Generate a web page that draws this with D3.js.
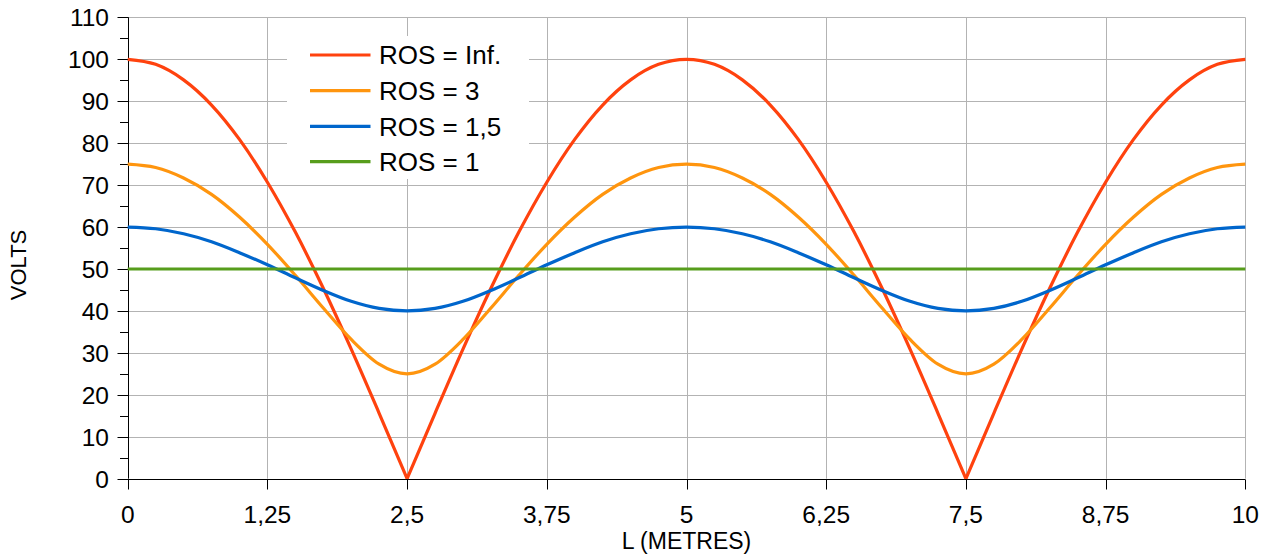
<!DOCTYPE html>
<html>
<head>
<meta charset="utf-8">
<script src="https://cdn.jsdelivr.net/npm/d3@7"></script>
<style>
  html, body { margin: 0; padding: 0; background: #fff; }
  svg { display: block; font-family: "Liberation Sans", Arial, sans-serif; }
</style>
</head>
<body>
<svg id="chart" width="1268" height="556"></svg>
<script>
// ---- data ----
const L = [0, 0.25, 0.5, 0.75, 1, 1.25, 1.5, 1.75, 2, 2.25, 2.5, 2.75, 3, 3.25, 3.5, 3.75, 4, 4.25, 4.5, 4.75, 5,
           5.25, 5.5, 5.75, 6, 6.25, 6.5, 6.75, 7, 7.25, 7.5, 7.75, 8, 8.25, 8.5, 8.75, 9, 9.25, 9.5, 9.75, 10];
const rosInf = [100, 98.8, 95.1, 89.1, 80.9, 70.7, 58.8, 45.4, 30.9, 15.6, 0, 15.6, 30.9, 45.4, 58.8, 70.7, 80.9, 89.1, 95.1, 98.8, 100,
                98.8, 95.1, 89.1, 80.9, 70.7, 58.8, 45.4, 30.9, 15.6, 0, 15.6, 30.9, 45.4, 58.8, 70.7, 80.9, 89.1, 95.1, 98.8, 100];
const ros3 = [75, 74.2, 71.7, 67.8, 62.4, 55.9, 48.5, 40.7, 33.2, 27.3, 25, 27.3, 33.2, 40.7, 48.5, 55.9, 62.4, 67.8, 71.7, 74.2, 75,
              74.2, 71.7, 67.8, 62.4, 55.9, 48.5, 40.7, 33.2, 27.3, 25, 27.3, 33.2, 40.7, 48.5, 55.9, 62.4, 67.8, 71.7, 74.2, 75];
const ros15 = [60, 59.6, 58.4, 56.5, 53.9, 51.0, 47.9, 44.9, 42.3, 40.6, 40, 40.6, 42.3, 44.9, 47.9, 51.0, 53.9, 56.5, 58.4, 59.6, 60,
               59.6, 58.4, 56.5, 53.9, 51.0, 47.9, 44.9, 42.3, 40.6, 40, 40.6, 42.3, 44.9, 47.9, 51.0, 53.9, 56.5, 58.4, 59.6, 60];
const ros1 = [50, 50, 50, 50, 50, 50, 50, 50, 50, 50, 50, 50, 50, 50, 50, 50, 50, 50, 50, 50, 50,
              50, 50, 50, 50, 50, 50, 50, 50, 50, 50, 50, 50, 50, 50, 50, 50, 50, 50, 50, 50];
const seriesNames = ["ROS = Inf.", "ROS = 3", "ROS = 1,5", "ROS = 1"];
const seriesColors = ["#ff420e", "#ff950e", "#0066cc", "#579d1c"];
const xTicks = [0, 1.25, 2.5, 3.75, 5, 6.25, 7.5, 8.75, 10];
const xTickLabels = ["0", "1,25", "2,5", "3,75", "5", "6,25", "7,5", "8,75", "10"];
const yTicks = [0, 10, 20, 30, 40, 50, 60, 70, 80, 90, 100, 110];
const yMinorTicks = [5, 15, 25, 35, 45, 55, 65, 75, 85, 95, 105];
const xTitle = "L (METRES)";
const yTitle = "VOLTS";

(function () {
// ---- layout ----
const svg = d3.select("#chart");
const pLeft = 127.7, pRight = 1245.3, pTop = 17.4, pBottom = 478.7;
const x = d3.scaleLinear().domain([0, 10]).range([pLeft, pRight]);
const y = d3.scaleLinear().domain([0, 110]).range([pBottom, pTop]);
const grid = "#b3b3b3";

// grid
const g = svg.append("g");
g.selectAll("line.hg").data(yTicks.filter(d => d > 0)).join("line")
  .attr("x1", pLeft).attr("x2", pRight)
  .attr("y1", d => Math.round(y(d)) + 0.5).attr("y2", d => Math.round(y(d)) + 0.5)
  .attr("stroke", grid).attr("stroke-width", 1);
g.selectAll("line.vg").data(xTicks.filter(d => d > 0)).join("line")
  .attr("x1", d => Math.round(x(d)) + 0.5).attr("x2", d => Math.round(x(d)) + 0.5)
  .attr("y1", pTop).attr("y2", pBottom)
  .attr("stroke", grid).attr("stroke-width", 1);

// y axis
const yAxis = svg.append("g").attr("transform", `translate(${Math.round(pLeft) + 0.5},0)`);
yAxis.append("line").attr("x1", 0).attr("x2", 0).attr("y1", y(110)).attr("y2", y(0)).attr("stroke", "#000");
yAxis.selectAll("line.maj").data(yTicks).join("line")
  .attr("x1", -11).attr("x2", 0)
  .attr("y1", d => Math.round(y(d)) + 0.5).attr("y2", d => Math.round(y(d)) + 0.5)
  .attr("stroke", "#000");
yAxis.selectAll("line.min").data(yMinorTicks).join("line")
  .attr("x1", -8.5).attr("x2", 0)
  .attr("y1", d => Math.round(y(d)) + 0.5).attr("y2", d => Math.round(y(d)) + 0.5)
  .attr("stroke", "#000");
yAxis.selectAll("text").data(yTicks).join("text")
  .attr("x", -19.5).attr("y", d => y(d)).attr("dy", "0.36em")
  .attr("text-anchor", "end").attr("font-size", 24.5).attr("fill", "#000")
  .text(d => d);

// x axis
const xAxis = svg.append("g").attr("transform", `translate(0,${Math.round(pBottom) + 0.5})`);
xAxis.append("line").attr("x1", x(0)).attr("x2", x(10)).attr("y1", 0).attr("y2", 0).attr("stroke", "#000");
xAxis.selectAll("line.t").data(xTicks).join("line")
  .attr("x1", d => Math.round(x(d)) + 0.5).attr("x2", d => Math.round(x(d)) + 0.5)
  .attr("y1", 0).attr("y2", 10).attr("stroke", "#000");
xAxis.selectAll("text").data(xTicks).join("text")
  .attr("x", d => x(d)).attr("y", 43)
  .attr("text-anchor", "middle").attr("font-size", 24.5).attr("fill", "#000")
  .text((d, i) => xTickLabels[i]);

// axis titles
svg.append("text").attr("x", (pLeft + pRight) / 2).attr("y", 548.5)
  .attr("text-anchor", "middle").attr("font-size", 23).attr("fill", "#000").text(xTitle);
svg.append("text").attr("transform", "translate(25.5,265) rotate(-90)")
  .attr("text-anchor", "middle").attr("font-size", 22).attr("fill", "#000").text(yTitle);

// series
const allSeries = [rosInf, ros3, ros15, ros1];
const line = d3.line().x(d => x(d[0])).y(d => y(d[1])).curve(d3.curveMonotoneX);
const plot = svg.append("g");
allSeries.forEach((vals, si) => {
  const pts = L.map((l, i) => [l, vals[i]]);
  // split at cusps (zero values) so the V shape keeps its point
  const segs = [];
  let cur = [];
  pts.forEach((p, i) => {
    cur.push(p);
    if (p[1] === 0 && i > 0 && i < pts.length - 1) { segs.push(cur); cur = [p]; }
  });
  segs.push(cur);
  segs.forEach(seg => {
    plot.append("path").attr("d", line(seg)).attr("fill", "none")
      .attr("stroke", seriesColors[si]).attr("stroke-width", 3.2)
      .attr("stroke-linejoin", "round").attr("stroke-linecap", "butt");
  });
});

// legend
const lg = svg.append("g");
lg.append("rect").attr("x", 287).attr("y", 36).attr("width", 242).attr("height", 143).attr("fill", "#fff");
const rowY = [55, 90.7, 126.3, 161.7];
seriesNames.forEach((name, i) => {
  lg.append("line").attr("x1", 310).attr("x2", 370.5).attr("y1", rowY[i]).attr("y2", rowY[i])
    .attr("stroke", seriesColors[i]).attr("stroke-width", 3.2);
  lg.append("text").attr("x", 379).attr("y", rowY[i]).attr("dy", "0.36em")
    .attr("font-size", 26).attr("fill", "#000").text(name);
});
})();
</script>
</body>
</html>
